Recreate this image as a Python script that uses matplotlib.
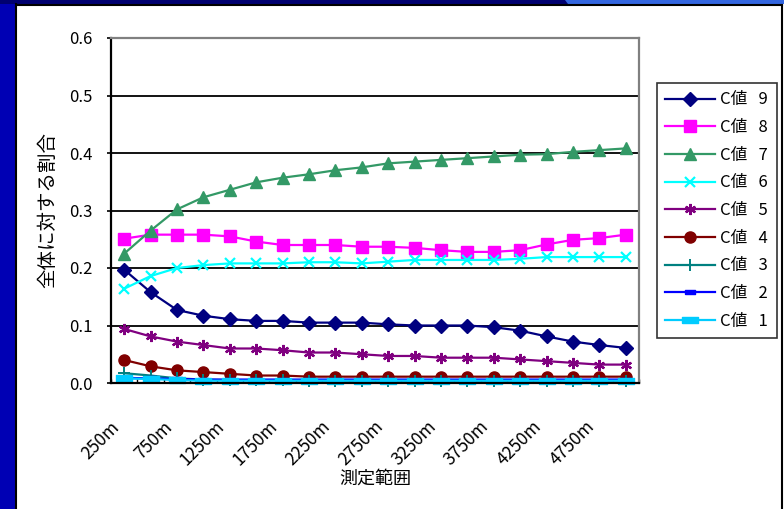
import matplotlib
matplotlib.use("Agg")
import matplotlib.pyplot as plt
from matplotlib.patches import Rectangle, Polygon
from matplotlib.transforms import ScaledTranslation

plt.rcParams['font.family'] = ['Noto Sans CJK JP', 'DejaVu Sans']

# 測定範囲 (m)
ranges = [250, 500, 750, 1000, 1250, 1500, 1750, 2000, 2250, 2500,
          2750, 3000, 3250, 3500, 3750, 4000, 4250, 4500, 4750, 5000]
range_labels = [f"{r}m" for r in ranges]

c9 = [0.197, 0.158, 0.127, 0.117, 0.111, 0.108, 0.108, 0.105, 0.105, 0.105,
      0.102, 0.100, 0.100, 0.100, 0.097, 0.091, 0.081, 0.072, 0.066, 0.061]
c8 = [0.251, 0.258, 0.258, 0.258, 0.255, 0.246, 0.240, 0.240, 0.240, 0.237,
      0.237, 0.235, 0.231, 0.228, 0.228, 0.231, 0.241, 0.249, 0.252, 0.258]
c7 = [0.225, 0.265, 0.302, 0.323, 0.336, 0.349, 0.357, 0.363, 0.370, 0.375,
      0.382, 0.385, 0.388, 0.391, 0.394, 0.397, 0.398, 0.402, 0.405, 0.408]
c6 = [0.164, 0.186, 0.200, 0.205, 0.208, 0.208, 0.208, 0.210, 0.210, 0.208,
      0.211, 0.214, 0.214, 0.214, 0.214, 0.216, 0.219, 0.219, 0.219, 0.219]
c5 = [0.094, 0.081, 0.072, 0.066, 0.060, 0.060, 0.057, 0.053, 0.053, 0.050,
      0.047, 0.047, 0.044, 0.044, 0.044, 0.041, 0.038, 0.035, 0.032, 0.032]
c4 = [0.040, 0.029, 0.022, 0.019, 0.016, 0.013, 0.013, 0.011, 0.011, 0.011,
      0.011, 0.011, 0.011, 0.011, 0.011, 0.011, 0.011, 0.011, 0.011, 0.011]
c3 = [0.017, 0.013, 0.008, 0.006, 0.005, 0.005, 0.005, 0.004, 0.004, 0.004,
      0.004, 0.004, 0.004, 0.004, 0.004, 0.004, 0.004, 0.004, 0.004, 0.004]
c2 = [0.009, 0.008, 0.007, 0.006, 0.006, 0.006, 0.006, 0.006, 0.006, 0.006,
      0.006, 0.006, 0.006, 0.006, 0.006, 0.006, 0.006, 0.006, 0.006, 0.006]
c1 = [0.008, 0.007, 0.005, 0.004, 0.004, 0.004, 0.004, 0.004, 0.004, 0.004,
      0.004, 0.004, 0.004, 0.004, 0.004, 0.004, 0.004, 0.004, 0.004, 0.004]

series_names = ["C値   9", "C値   8", "C値   7", "C値   6", "C値   5",
                "C値   4", "C値   3", "C値   2", "C値   1"]
series_values = [c9, c8, c7, c6, c5, c4, c3, c2, c1]

dash_marker = [(-1, -0.45), (1, -0.45), (1, 0.45), (-1, 0.45), (-1, -0.45)]
styles = [
    dict(color="#000080", marker="D", ms=7.5, mec="#000080"),
    dict(color="#FF00FF", marker="s", ms=8, mec="#FF00FF"),
    dict(color="#339966", marker="^", ms=9, mec="#339966"),
    dict(color="#00FFFF", marker="x", ms=7, mew=1.6),
    dict(color="#800080", marker=(6, 2, 0), ms=8, mew=1.6),
    dict(color="#800000", marker="o", ms=8, mec="#800000"),
    dict(color="#008080", marker="+", ms=8, mew=1.4),
    dict(color="#0000FF", marker=dash_marker, ms=7, mec="#0000FF"),
    dict(color="#00CCFF", marker=dash_marker, ms=11, mec="#00CCFF"),
]

fig = plt.figure(figsize=(7.84, 5.09), dpi=100)
fig.patch.set_facecolor("white")

# slide frame
fig.add_artist(Rectangle((0, 0), 15 / 784, 1, transform=fig.transFigure,
                         facecolor="#0000B4", edgecolor="none", zorder=0))
fig.add_artist(Rectangle((0, 1 - 4 / 509), 1, 4 / 509, transform=fig.transFigure,
                         facecolor="#000070", edgecolor="none", zorder=0))
fig.add_artist(Polygon([(565 / 784, 1), (1, 1), (1, 1 - 4 / 509), (568 / 784, 1 - 4 / 509)],
                       closed=True, transform=fig.transFigure,
                       facecolor="#3366E0", edgecolor="none", zorder=0))
fig.add_artist(plt.Line2D([16 / 784, 16 / 784], [0, 1 - 4 / 509], transform=fig.transFigure,
                          color="black", lw=1.5))
fig.add_artist(plt.Line2D([16 / 784, 782 / 784], [1 - 5 / 509, 1 - 5 / 509],
                          transform=fig.transFigure, color="black", lw=1.5))
fig.add_artist(plt.Line2D([782 / 784, 782 / 784], [0, 1 - 5 / 509], transform=fig.transFigure,
                          color="black", lw=1.5))

ax = fig.add_axes([111 / 784, 1 - 383 / 509, (639 - 111) / 784, (383 - 38) / 509])

x = list(range(len(ranges)))
handles = []
for name, vals, st in zip(series_names, series_values, styles):
    (h,) = ax.plot(x, vals, lw=1.6, label=name, clip_on=False, **st)
    handles.append(h)

yticks = [0.0, 0.1, 0.2, 0.3, 0.4, 0.5, 0.6]
ax.set_xlim(-0.5, len(ranges) - 0.5)
ax.set_ylim(0, 0.6)
ax.set_yticks(yticks)
ax.set_yticklabels([f"{v:.1f}" for v in yticks], fontsize=12)
ax.yaxis.grid(True, color="black", lw=1.3)
ax.set_axisbelow(True)
ax.tick_params(axis="y", length=3, width=1.2, direction="out", pad=10)

ax.set_xticks([i - 0.5 for i in range(len(ranges) + 1)], minor=True)
ax.set_xticks(x[::2])
ax.set_xticklabels(range_labels[::2], rotation=45, ha="right", va="top",
                   rotation_mode="anchor", fontsize=12.5)
ax.tick_params(axis="x", which="major", length=0, pad=25)
ax.tick_params(axis="x", which="minor", length=3, width=1, direction="in")
shift = ScaledTranslation(-14 / 100, 0, fig.dpi_scale_trans)
for lab in ax.get_xticklabels():
    lab.set_transform(lab.get_transform() + shift)

for side in ("left", "bottom"):
    ax.spines[side].set_color("black")
    ax.spines[side].set_linewidth(1.6)
for side in ("top", "right"):
    ax.spines[side].set_color("#808080")
    ax.spines[side].set_linewidth(1.6)

ax.set_ylabel("全体に対する割合", fontsize=14, labelpad=8)
ax.set_xlabel("測定範囲", fontsize=13, labelpad=0)

leg = fig.legend(handles=handles, loc="upper left",
                 bbox_to_anchor=(657 / 784, 1 - 83 / 509), bbox_transform=fig.transFigure,
                 fontsize=12, frameon=True, fancybox=False, edgecolor="black",
                 handlelength=3.0, handletextpad=0.3, labelspacing=0.64,
                 borderpad=0.5, borderaxespad=0)
leg.get_frame().set_linewidth(1.2)

fig.savefig("out.png", dpi=100)
